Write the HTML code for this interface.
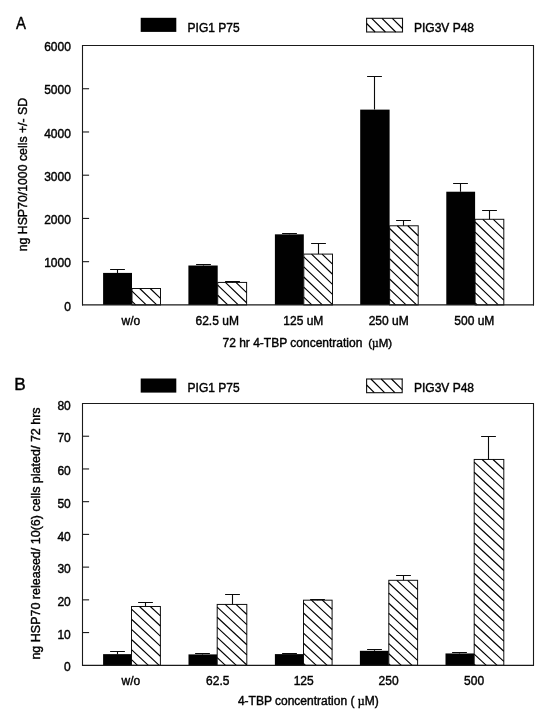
<!DOCTYPE html>
<html><head><meta charset="utf-8"><title>Figure</title>
<style>
html,body{margin:0;padding:0;background:#fff;}
body{width:547px;height:712px;overflow:hidden;font-family:"Liberation Sans", sans-serif;}
svg{display:block;will-change:transform;opacity:0.999;}
svg text{font-family:"Liberation Sans", sans-serif;fill:#000;stroke:#000;stroke-width:0.4px;}
</style></head><body>
<svg width="547" height="712" viewBox="0 0 547 712">
<rect width="547" height="712" fill="#fff"/>
<rect x="140.7" y="17.8" width="35.6" height="14.099999999999998" fill="#000"/>
<text x="187.6" y="32.4" font-size="12">PIG1 P75</text>
<rect x="366.6" y="18.3" width="35.9" height="13.699999999999998" fill="#fff" stroke="#111" stroke-width="1.1"/>
<path d="M392.30 18.30L402.50 28.50M382.00 18.30L395.70 32.00M371.70 18.30L385.40 32.00M366.60 23.50L375.10 32.00" stroke="#000" stroke-width="1.15" fill="none"/>
<text x="414" y="32.4" font-size="12">PIG3V P48</text>
<text transform="translate(16.0 29.2) scale(0.86 1)" font-size="17.4" stroke-width="0.12">A</text>
<rect x="103.1" y="272.91" width="28.90" height="31.99" fill="#000"/>
<path d="M117.50 272.91V269.50M110.10 269.50H124.90" stroke="#0a0a0a" stroke-width="1.1" fill="none"/>
<rect x="132.0" y="288.51" width="28.50" height="16.39" fill="#fff" stroke="#111" stroke-width="1.0"/>
<path d="M150.23 288.51L160.50 298.37M139.71 288.51L156.78 304.90M132.00 291.21L146.26 304.90M132.00 301.31L135.73 304.90" stroke="#000" stroke-width="1.15" fill="none"/>
<rect x="188.4" y="265.51" width="29.30" height="39.39" fill="#000"/>
<path d="M203.50 265.51V264.50M196.10 264.50H210.90" stroke="#0a0a0a" stroke-width="1.1" fill="none"/>
<rect x="217.7" y="282.42" width="28.90" height="22.48" fill="#fff" stroke="#111" stroke-width="1.0"/>
<path d="M246.45 282.42L246.60 282.56M235.93 282.42L246.60 292.66M225.41 282.42L246.60 302.76M217.70 285.12L238.31 304.90M217.70 295.22L227.78 304.90" stroke="#000" stroke-width="1.15" fill="none"/>
<path d="M232.50 282.42V281.50M225.10 281.50H239.90" stroke="#0a0a0a" stroke-width="1.1" fill="none"/>
<rect x="274.9" y="234.34" width="28.90" height="70.56" fill="#000"/>
<path d="M289.50 234.34V233.50M282.10 233.50H296.90" stroke="#0a0a0a" stroke-width="1.1" fill="none"/>
<rect x="303.8" y="254.10" width="28.70" height="50.80" fill="#fff" stroke="#111" stroke-width="1.0"/>
<path d="M322.03 254.10L332.50 264.15M311.51 254.10L332.50 274.25M303.80 256.80L332.50 284.35M303.80 266.90L332.50 294.45M303.80 277.00L332.50 304.55M303.80 287.10L322.34 304.90M303.80 297.20L311.82 304.90" stroke="#000" stroke-width="1.15" fill="none"/>
<path d="M318.50 254.10V243.50M311.10 243.50H325.90" stroke="#0a0a0a" stroke-width="1.1" fill="none"/>
<rect x="360.2" y="109.62" width="29.40" height="195.28" fill="#000"/>
<path d="M374.50 109.62V76.50M367.10 76.50H381.90" stroke="#0a0a0a" stroke-width="1.1" fill="none"/>
<rect x="389.6" y="225.78" width="28.60" height="79.12" fill="#fff" stroke="#111" stroke-width="1.0"/>
<path d="M407.83 225.78L418.20 235.74M397.31 225.78L418.20 245.84M389.60 228.48L418.20 255.94M389.60 238.58L418.20 266.04M389.60 248.68L418.20 276.14M389.60 258.78L418.20 286.24M389.60 268.88L418.20 296.34M389.60 278.98L416.60 304.90M389.60 289.08L406.08 304.90M389.60 299.18L395.56 304.90" stroke="#000" stroke-width="1.15" fill="none"/>
<path d="M403.50 225.78V220.50M396.10 220.50H410.90" stroke="#0a0a0a" stroke-width="1.1" fill="none"/>
<rect x="446.3" y="191.72" width="28.80" height="113.18" fill="#000"/>
<path d="M460.50 191.72V183.50M453.10 183.50H467.90" stroke="#0a0a0a" stroke-width="1.1" fill="none"/>
<rect x="475.1" y="219.30" width="28.70" height="85.60" fill="#fff" stroke="#111" stroke-width="1.0"/>
<path d="M493.33 219.30L503.80 229.35M482.81 219.30L503.80 239.45M475.10 222.00L503.80 249.55M475.10 232.10L503.80 259.65M475.10 242.20L503.80 269.75M475.10 252.30L503.80 279.85M475.10 262.40L503.80 289.95M475.10 272.50L503.80 300.05M475.10 282.60L498.33 304.90M475.10 292.70L487.81 304.90M475.10 302.80L477.29 304.90" stroke="#000" stroke-width="1.15" fill="none"/>
<path d="M489.50 219.30V210.50M482.10 210.50H496.90" stroke="#0a0a0a" stroke-width="1.1" fill="none"/>
<path d="M82.5 45.0V305.5M533.5 45.0V305.5M82.0 45.5H534.0" stroke="#1a1a1a" stroke-width="1.1" fill="none"/>
<path d="M82.0 304.9H534.0" stroke="#1a1a1a" stroke-width="1.35" fill="none"/>
<text x="70.9" y="310.50" font-size="12" text-anchor="end">0</text>
<path d="M82.5 261.67h6.6" stroke="#1a1a1a" stroke-width="1.1"/>
<text x="70.9" y="267.27" font-size="12" text-anchor="end">1000</text>
<path d="M82.5 218.43h6.6" stroke="#1a1a1a" stroke-width="1.1"/>
<text x="70.9" y="224.03" font-size="12" text-anchor="end">2000</text>
<path d="M82.5 175.20h6.6" stroke="#1a1a1a" stroke-width="1.1"/>
<text x="70.9" y="180.80" font-size="12" text-anchor="end">3000</text>
<path d="M82.5 131.97h6.6" stroke="#1a1a1a" stroke-width="1.1"/>
<text x="70.9" y="137.57" font-size="12" text-anchor="end">4000</text>
<path d="M82.5 88.73h6.6" stroke="#1a1a1a" stroke-width="1.1"/>
<text x="70.9" y="94.33" font-size="12" text-anchor="end">5000</text>
<text x="70.9" y="51.10" font-size="12" text-anchor="end">6000</text>
<text x="130.9" y="325.4" font-size="12" text-anchor="middle">w/o</text>
<text x="217.2" y="325.4" font-size="12" text-anchor="middle">62.5 uM</text>
<text x="303.3" y="325.4" font-size="12" text-anchor="middle">125 uM</text>
<text x="388.7" y="325.4" font-size="12" text-anchor="middle">250 uM</text>
<text x="474.3" y="325.4" font-size="12" text-anchor="middle">500 uM</text>
<text x="222.5" y="346.8" font-size="12">72 hr 4-TBP concentration <tspan font-size="11.5" dx="2.5">(</tspan><tspan font-size="11.5" font-family='"Liberation Serif", serif'>µ</tspan><tspan font-size="11.5">M)</tspan></text>
<text transform="translate(26.7 174.6) rotate(-90)" font-size="12.3" text-anchor="middle">ng HSP70/1000 cells +/- SD</text>
<rect x="140.7" y="378.5" width="35.6" height="14.100000000000023" fill="#000"/>
<text x="187.6" y="392.3" font-size="12">PIG1 P75</text>
<rect x="366.6" y="379.0" width="35.6" height="13.700000000000022" fill="#fff" stroke="#111" stroke-width="1.1"/>
<path d="M401.80 379.00L402.20 379.40M391.50 379.00L402.20 389.70M381.20 379.00L394.90 392.70M370.90 379.00L384.60 392.70M366.60 385.00L374.30 392.70" stroke="#000" stroke-width="1.15" fill="none"/>
<text x="414" y="392.3" font-size="12">PIG3V P48</text>
<text transform="translate(14.2 389.8) scale(1.0 1)" font-size="17.2" stroke-width="0.12">B</text>
<rect x="103.1" y="654.14" width="28.40" height="11.16" fill="#000"/>
<path d="M117.50 654.14V651.50M110.10 651.50H124.90" stroke="#0a0a0a" stroke-width="1.1" fill="none"/>
<rect x="131.5" y="606.49" width="28.90" height="58.81" fill="#fff" stroke="#111" stroke-width="1.0"/>
<path d="M150.32 606.49L160.40 615.87M139.46 606.49L160.40 625.97M131.50 609.19L160.40 636.07M131.50 619.29L160.40 646.17M131.50 629.39L160.40 656.27M131.50 639.49L159.25 665.30M131.50 649.59L148.39 665.30M131.50 659.69L137.53 665.30" stroke="#000" stroke-width="1.15" fill="none"/>
<path d="M145.50 606.49V602.50M138.10 602.50H152.90" stroke="#0a0a0a" stroke-width="1.1" fill="none"/>
<rect x="188.5" y="654.40" width="28.70" height="10.90" fill="#000"/>
<path d="M202.50 654.40V653.50M195.10 653.50H209.90" stroke="#0a0a0a" stroke-width="1.1" fill="none"/>
<rect x="217.2" y="604.43" width="29.60" height="60.87" fill="#fff" stroke="#111" stroke-width="1.0"/>
<path d="M236.02 604.43L246.80 614.46M225.16 604.43L246.80 624.56M217.20 607.13L246.80 634.66M217.20 617.23L246.80 644.76M217.20 627.33L246.80 654.86M217.20 637.43L246.80 664.96M217.20 647.53L236.31 665.30M217.20 657.63L225.45 665.30" stroke="#000" stroke-width="1.15" fill="none"/>
<path d="M232.50 604.43V594.50M225.10 594.50H239.90" stroke="#0a0a0a" stroke-width="1.1" fill="none"/>
<rect x="274.9" y="654.11" width="28.60" height="11.19" fill="#000"/>
<path d="M289.50 654.11V653.50M282.10 653.50H296.90" stroke="#0a0a0a" stroke-width="1.1" fill="none"/>
<rect x="303.5" y="600.18" width="28.60" height="65.12" fill="#fff" stroke="#111" stroke-width="1.0"/>
<path d="M322.32 600.18L332.10 609.28M311.46 600.18L332.10 619.38M303.50 602.88L332.10 629.48M303.50 612.98L332.10 639.58M303.50 623.08L332.10 649.68M303.50 633.18L332.10 659.78M303.50 643.28L327.18 665.30M303.50 653.38L316.32 665.30M303.50 663.48L305.46 665.30" stroke="#000" stroke-width="1.15" fill="none"/>
<path d="M317.50 600.18V599.50M310.10 599.50H324.90" stroke="#0a0a0a" stroke-width="1.1" fill="none"/>
<rect x="359.9" y="650.80" width="28.90" height="14.50" fill="#000"/>
<path d="M374.50 650.80V649.50M367.10 649.50H381.90" stroke="#0a0a0a" stroke-width="1.1" fill="none"/>
<rect x="388.8" y="580.31" width="28.80" height="84.99" fill="#fff" stroke="#111" stroke-width="1.0"/>
<path d="M407.62 580.31L417.60 589.60M396.76 580.31L417.60 599.70M388.80 583.01L417.60 609.80M388.80 593.11L417.60 619.90M388.80 603.21L417.60 630.00M388.80 613.31L417.60 640.10M388.80 623.41L417.60 650.20M388.80 633.51L417.60 660.30M388.80 643.61L412.12 665.30M388.80 653.71L401.26 665.30M388.80 663.81L390.40 665.30" stroke="#000" stroke-width="1.15" fill="none"/>
<path d="M403.50 580.31V575.50M396.10 575.50H410.90" stroke="#0a0a0a" stroke-width="1.1" fill="none"/>
<rect x="445.5" y="653.45" width="28.70" height="11.85" fill="#000"/>
<path d="M459.50 653.45V652.50M452.10 652.50H466.90" stroke="#0a0a0a" stroke-width="1.1" fill="none"/>
<rect x="474.2" y="459.46" width="29.60" height="205.84" fill="#fff" stroke="#111" stroke-width="1.0"/>
<path d="M493.02 459.46L503.80 469.49M482.16 459.46L503.80 479.59M474.20 462.16L503.80 489.69M474.20 472.26L503.80 499.79M474.20 482.36L503.80 509.89M474.20 492.46L503.80 519.99M474.20 502.56L503.80 530.09M474.20 512.66L503.80 540.19M474.20 522.76L503.80 550.29M474.20 532.86L503.80 560.39M474.20 542.96L503.80 570.49M474.20 553.06L503.80 580.59M474.20 563.16L503.80 590.69M474.20 573.26L503.80 600.79M474.20 583.36L503.80 610.89M474.20 593.46L503.80 620.99M474.20 603.56L503.80 631.09M474.20 613.66L503.80 641.19M474.20 623.76L503.80 651.29M474.20 633.86L503.80 661.39M474.20 643.96L497.15 665.30M474.20 654.06L486.29 665.30M474.20 664.16L475.43 665.30" stroke="#000" stroke-width="1.15" fill="none"/>
<path d="M488.50 459.46V436.50M481.10 436.50H495.90" stroke="#0a0a0a" stroke-width="1.1" fill="none"/>
<path d="M82.5 403.0V665.9M533.5 403.0V665.9M82.0 403.5H534.0" stroke="#1a1a1a" stroke-width="1.1" fill="none"/>
<path d="M82.0 665.3H534.0" stroke="#1a1a1a" stroke-width="1.35" fill="none"/>
<text x="70.8" y="671.40" font-size="12" text-anchor="end">0</text>
<path d="M82.5 632.57h6.6" stroke="#1a1a1a" stroke-width="1.1"/>
<text x="70.8" y="638.67" font-size="12" text-anchor="end">10</text>
<path d="M82.5 599.85h6.6" stroke="#1a1a1a" stroke-width="1.1"/>
<text x="70.8" y="605.95" font-size="12" text-anchor="end">20</text>
<path d="M82.5 567.12h6.6" stroke="#1a1a1a" stroke-width="1.1"/>
<text x="70.8" y="573.23" font-size="12" text-anchor="end">30</text>
<path d="M82.5 534.40h6.6" stroke="#1a1a1a" stroke-width="1.1"/>
<text x="70.8" y="540.50" font-size="12" text-anchor="end">40</text>
<path d="M82.5 501.67h6.6" stroke="#1a1a1a" stroke-width="1.1"/>
<text x="70.8" y="507.77" font-size="12" text-anchor="end">50</text>
<path d="M82.5 468.95h6.6" stroke="#1a1a1a" stroke-width="1.1"/>
<text x="70.8" y="475.05" font-size="12" text-anchor="end">60</text>
<path d="M82.5 436.23h6.6" stroke="#1a1a1a" stroke-width="1.1"/>
<text x="70.8" y="442.33" font-size="12" text-anchor="end">70</text>
<text x="70.8" y="409.60" font-size="12" text-anchor="end">80</text>
<text x="130.9" y="684.9" font-size="12" text-anchor="middle">w/o</text>
<text x="217.8" y="684.9" font-size="12" text-anchor="middle">62.5</text>
<text x="303.7" y="684.9" font-size="12" text-anchor="middle">125</text>
<text x="388.6" y="684.9" font-size="12" text-anchor="middle">250</text>
<text x="474.1" y="684.9" font-size="12" text-anchor="middle">500</text>
<text x="237.9" y="704.9" font-size="12">4-TBP concentration ( <tspan font-size="12" font-family='"Liberation Serif", serif'>µ</tspan>M)</text>
<text transform="translate(39.6 533.5) rotate(-90)" font-size="12.5" text-anchor="middle">ng HSP70 released/ 10(6) cells plated/ 72 hrs</text>
</svg>
</body></html>
